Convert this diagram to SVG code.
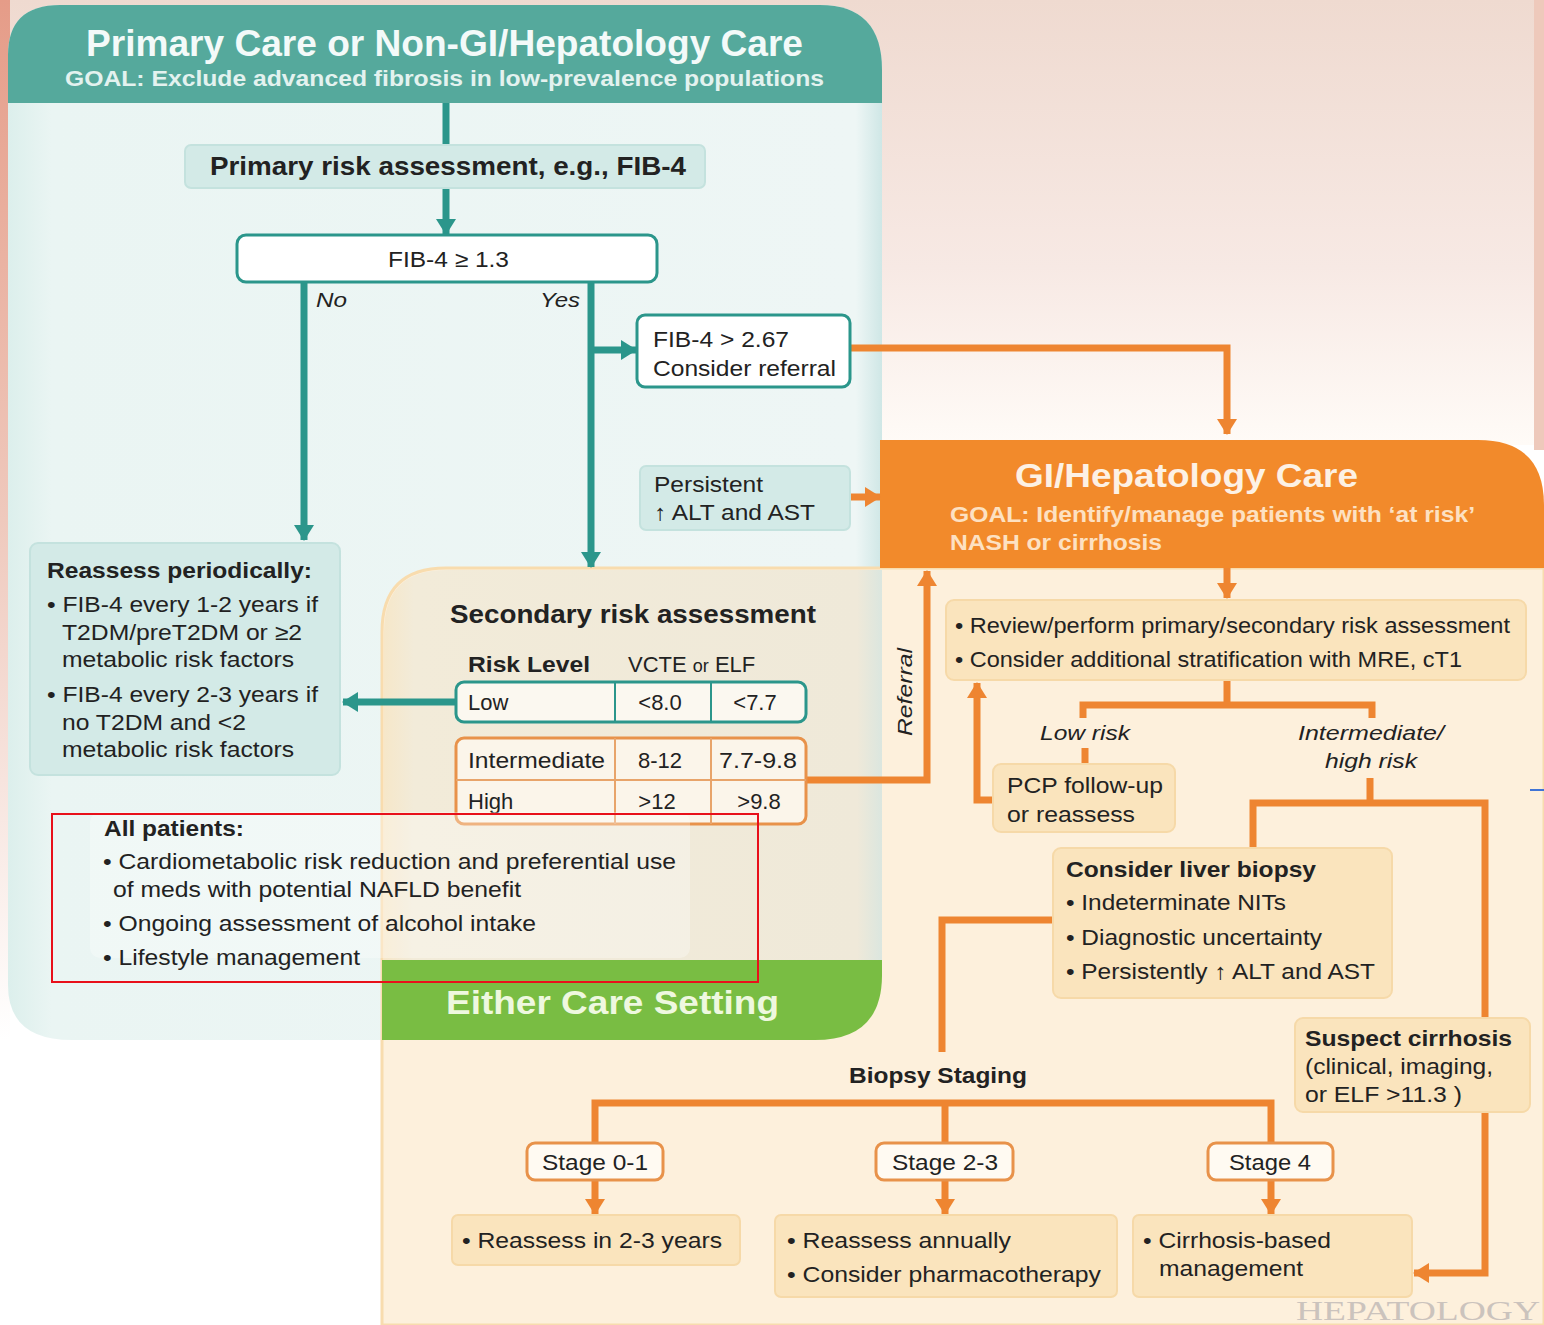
<svg xmlns="http://www.w3.org/2000/svg" width="1544" height="1325" viewBox="0 0 1544 1325">
<style>
text{font-family:"Liberation Sans",Arial,sans-serif;fill:#222;}
.t22{font-size:22px;}
.t21{font-size:21px;}
.b{font-weight:bold;}
.i{font-style:italic;}
.teal{fill:none;stroke:#2b968b;stroke-width:7;}
.or{fill:none;stroke:#ee8531;stroke-width:7;}
.lt{fill:#d3eae7;stroke:#c4e2de;stroke-width:2;}
.lo{fill:#fae4bd;stroke:#f6d9a8;stroke-width:2;}
.wt{fill:#ffffff;stroke:#2b968b;stroke-width:3;}
.wo{fill:#fffaf2;stroke:#e8924a;stroke-width:3;}
</style>
<defs>
<linearGradient id="bgTop" x1="0" y1="0" x2="0" y2="1">
<stop offset="0" stop-color="#efdad0"/>
<stop offset="0.6" stop-color="#f7e9e4"/>
<stop offset="1" stop-color="#fffbf7"/>
</linearGradient>
<linearGradient id="tealBody" x1="0" y1="0" x2="1" y2="0">
<stop offset="0" stop-color="#dcefec"/>
<stop offset="0.05" stop-color="#eaf5f3"/>
<stop offset="0.97" stop-color="#eef6f5"/>
<stop offset="1" stop-color="#cfe7e6"/>
</linearGradient>
<linearGradient id="overlap" x1="0" y1="0" x2="1" y2="0">
<stop offset="0" stop-color="#f6e7c9"/>
<stop offset="0.06" stop-color="#f2ebd9"/>
<stop offset="0.95" stop-color="#efe9d9"/>
<stop offset="1" stop-color="#dbe6df"/>
</linearGradient>
<linearGradient id="leftStrip" x1="0" y1="0" x2="0" y2="1">
<stop offset="0" stop-color="#e59c88"/>
<stop offset="0.5" stop-color="#efc9bd"/>
<stop offset="1" stop-color="#ffffff"/>
</linearGradient>
<marker id="ahT" markerUnits="userSpaceOnUse" markerWidth="18" markerHeight="20" refX="15" refY="10" orient="auto">
<path d="M0,0 L16,10 L0,20 Z" fill="#2b968b"/>
</marker>
<marker id="ahO" markerUnits="userSpaceOnUse" markerWidth="18" markerHeight="20" refX="15" refY="10" orient="auto">
<path d="M0,0 L16,10 L0,20 Z" fill="#ee8531"/>
</marker>
</defs>

<!-- background -->
<rect x="0" y="0" width="1544" height="1325" fill="#ffffff"/>
<rect x="0" y="0" width="1544" height="445" fill="url(#bgTop)"/>
<rect x="0" y="0" width="10" height="1040" fill="url(#leftStrip)"/>
<rect x="1534" y="0" width="10" height="450" fill="#eec9bb"/>

<!-- teal panel -->
<g id="panel-primary">
<path d="M8,985 L8,55 Q8,5 60,5 L820,5 Q882,5 882,70 L882,975 Q882,1040 815,1040 L72,1040 Q8,1040 8,985 Z" fill="url(#tealBody)"/>
<path d="M8,103 L8,55 Q8,5 60,5 L820,5 Q882,5 882,70 L882,103 Z" fill="#55a99c"/>
<text x="444.5" y="56" text-anchor="middle" font-size="36" font-weight="bold" style="fill:#f3faf9" textLength="717" lengthAdjust="spacingAndGlyphs">Primary Care or Non-GI/Hepatology Care</text>
<text x="444.5" y="86" text-anchor="middle" font-size="22" font-weight="bold" style="fill:#e3f2ef" textLength="759" lengthAdjust="spacingAndGlyphs">GOAL: Exclude advanced fibrosis in low-prevalence populations</text>
</g>

<!-- orange panel -->
<g id="panel-gi">
<path d="M382,632 Q382,568 446,568 L1544,568 L1544,1325 L382,1325 Z" fill="#fdf0dc" stroke="#f8dcae" stroke-width="3"/>
<path d="M384,632 Q384,570 446,570 L882,570 L882,960 L384,960 Z" fill="url(#overlap)"/>
<path d="M880,440 L1478,440 Q1544,440 1544,505 L1544,568 L880,568 Z" fill="#f28a2b"/>
<text x="1186.5" y="487" text-anchor="middle" font-size="34" font-weight="bold" style="fill:#fdf1e4" textLength="343" lengthAdjust="spacingAndGlyphs">GI/Hepatology Care</text>
<text x="950" y="522" font-size="22" font-weight="bold" style="fill:#fde1c2" textLength="525" lengthAdjust="spacingAndGlyphs">GOAL: Identify/manage patients with ‘at risk’</text>
<text x="950" y="550" font-size="22" font-weight="bold" style="fill:#fde1c2" textLength="212" lengthAdjust="spacingAndGlyphs">NASH or cirrhosis</text>
</g>

<!-- either care setting band -->
<g id="band-either">
<path d="M382,960 L882,960 L882,975 Q882,1040 815,1040 L382,1040 Z" fill="#79bd43"/>
<text x="612.5" y="1014" text-anchor="middle" font-size="34" font-weight="bold" style="fill:#eef8df" textLength="333" lengthAdjust="spacingAndGlyphs">Either Care Setting</text>
</g>

<!-- connectors -->
<g id="connectors">
<path class="teal" d="M446,103 L446,145"/>
<path class="teal" d="M446,188 L446,234" marker-end="url(#ahT)"/>
<path class="teal" d="M304,282 L304,540" marker-end="url(#ahT)"/>
<path class="teal" d="M591,282 L591,567" marker-end="url(#ahT)"/>
<path class="teal" d="M591,350 L636,350" marker-end="url(#ahT)"/>
<path class="teal" d="M456,702 L343,702" marker-end="url(#ahT)"/>
<path class="or" d="M850,348 L1227,348 L1227,434" marker-end="url(#ahO)"/>
<path class="or" d="M850,497 L880,497" marker-end="url(#ahO)"/>
<path class="or" d="M806,780 L927,780 L927,571" marker-end="url(#ahO)"/>
<path class="or" d="M1227,568 L1227,598" marker-end="url(#ahO)"/>
<path class="or" d="M1227,680 L1227,705"/>
<path class="or" d="M1083,718 L1083,705 L1372,705 L1372,718"/>
<path class="or" d="M1085,748 L1085,766"/>
<path class="or" d="M993,800 L977,800 L977,683" marker-end="url(#ahO)"/>
<path class="or" d="M1370,778 L1370,803"/>
<path class="or" d="M1253,848 L1253,803 L1485,803 L1485,1018"/>
<path class="or" d="M1485,1112 L1485,1273 L1414,1273" marker-end="url(#ahO)"/>
<path class="or" d="M1053,920 L942,920 L942,1052"/>
<path class="or" d="M595,1145 L595,1103 L1271,1103 L1271,1145"/>
<path class="or" d="M945,1103 L945,1145"/>
<path class="or" d="M595,1180 L595,1214" marker-end="url(#ahO)"/>
<path class="or" d="M945,1180 L945,1214" marker-end="url(#ahO)"/>
<path class="or" d="M1271,1180 L1271,1214" marker-end="url(#ahO)"/>
<text x="0" y="0" class="t21 i" transform="translate(912,692) rotate(-90)" text-anchor="middle" textLength="88" lengthAdjust="spacingAndGlyphs">Referral</text>
<text x="316" y="307" class="t21 i" textLength="31" lengthAdjust="spacingAndGlyphs">No</text>
<text x="540" y="307" class="t21 i" textLength="40" lengthAdjust="spacingAndGlyphs">Yes</text>
<text x="1085" y="740" class="t21 i" text-anchor="middle" textLength="90" lengthAdjust="spacingAndGlyphs">Low risk</text>
<text x="1371" y="740" class="t21 i" text-anchor="middle" textLength="146" lengthAdjust="spacingAndGlyphs">Intermediate/</text>
<text x="1371" y="768" class="t21 i" text-anchor="middle" textLength="92" lengthAdjust="spacingAndGlyphs">high risk</text>
<text x="938" y="1083" class="t22 b" text-anchor="middle" textLength="178" lengthAdjust="spacingAndGlyphs">Biopsy Staging</text>
</g>

<!-- nodes -->
<g id="node-primary-risk">
<rect x="185" y="145" width="520" height="43" rx="6" class="lt"/>
<text x="210" y="175" font-size="25" font-weight="bold" textLength="476" lengthAdjust="spacingAndGlyphs">Primary risk assessment, e.g., FIB-4</text>
</g>
<g id="node-fib13">
<rect x="237" y="235" width="420" height="47" rx="9" class="wt"/>
<text x="448.5" y="267" class="t22" text-anchor="middle" textLength="121" lengthAdjust="spacingAndGlyphs">FIB-4 ≥ 1.3</text>
</g>
<g id="node-fib267">
<rect x="637" y="315" width="213" height="72" rx="8" class="wt"/>
<text x="653" y="347" class="t22" textLength="136" lengthAdjust="spacingAndGlyphs">FIB-4 &gt; 2.67</text>
<text x="653" y="376" class="t22" textLength="183" lengthAdjust="spacingAndGlyphs">Consider referral</text>
</g>
<g id="node-persistent">
<rect x="640" y="466" width="210" height="64" rx="6" class="lt"/>
<text x="654" y="492" class="t22" textLength="109" lengthAdjust="spacingAndGlyphs">Persistent</text>
<text x="654" y="520" class="t22" textLength="161" lengthAdjust="spacingAndGlyphs">↑ ALT and AST</text>
</g>
<g id="node-reassess-periodically">
<rect x="30" y="543" width="310" height="232" rx="8" class="lt"/>
<text x="47" y="578" class="t22 b" textLength="265" lengthAdjust="spacingAndGlyphs">Reassess periodically:</text>
<text x="47" y="612" class="t22" textLength="271" lengthAdjust="spacingAndGlyphs">• FIB-4 every 1-2 years if</text>
<text x="62" y="640" class="t22" textLength="240" lengthAdjust="spacingAndGlyphs">T2DM/preT2DM or ≥2</text>
<text x="62" y="667" class="t22" textLength="232" lengthAdjust="spacingAndGlyphs">metabolic risk factors</text>
<text x="47" y="702" class="t22" textLength="271" lengthAdjust="spacingAndGlyphs">• FIB-4 every 2-3 years if</text>
<text x="62" y="730" class="t22" textLength="184" lengthAdjust="spacingAndGlyphs">no T2DM and &lt;2</text>
<text x="62" y="757" class="t22" textLength="232" lengthAdjust="spacingAndGlyphs">metabolic risk factors</text>
</g>
<g id="node-secondary">
<text x="450" y="623" font-size="25" font-weight="bold" textLength="366" lengthAdjust="spacingAndGlyphs">Secondary risk assessment</text>
<text x="468" y="672" class="t22 b" textLength="122" lengthAdjust="spacingAndGlyphs">Risk Level</text>
<text x="628" y="672" class="t22">VCTE <tspan font-size="18">or</tspan> ELF</text>
<rect x="456" y="682" width="350" height="40" rx="8" fill="#fbf8f0" stroke="#2b968b" stroke-width="3"/>
<line x1="615" y1="682" x2="615" y2="722" stroke="#2b968b" stroke-width="2"/>
<line x1="711" y1="682" x2="711" y2="722" stroke="#2b968b" stroke-width="2"/>
<text x="468" y="710" class="t22">Low</text>
<text x="660" y="710" class="t22" text-anchor="middle">&lt;8.0</text>
<text x="755" y="710" class="t22" text-anchor="middle">&lt;7.7</text>
<rect x="456" y="738" width="350" height="86" rx="8" fill="#fbf5ea" stroke="#e8924a" stroke-width="3"/>
<line x1="456" y1="780" x2="806" y2="780" stroke="#e8a46a" stroke-width="2"/>
<line x1="615" y1="738" x2="615" y2="824" stroke="#e8a46a" stroke-width="2"/>
<line x1="711" y1="738" x2="711" y2="824" stroke="#e8a46a" stroke-width="2"/>
<text x="468" y="768" class="t22" textLength="137" lengthAdjust="spacingAndGlyphs">Intermediate</text>
<text x="660" y="768" class="t22" text-anchor="middle">8-12</text>
<text x="758" y="768" class="t22" text-anchor="middle" textLength="78" lengthAdjust="spacingAndGlyphs">7.7-9.8</text>
<text x="468" y="809" class="t22">High</text>
<text x="657" y="809" class="t22" text-anchor="middle">&gt;12</text>
<text x="759" y="809" class="t22" text-anchor="middle">&gt;9.8</text>
</g>
<g id="node-all-patients">
<rect x="90" y="812" width="600" height="146" rx="10" fill="#ffffff" opacity="0.3"/>
<text x="104" y="836" class="t22 b" textLength="140" lengthAdjust="spacingAndGlyphs">All patients:</text>
<text x="103" y="869" class="t22" textLength="573" lengthAdjust="spacingAndGlyphs">• Cardiometabolic risk reduction and preferential use</text>
<text x="113" y="897" class="t22" textLength="408" lengthAdjust="spacingAndGlyphs">of meds with potential NAFLD benefit</text>
<text x="103" y="931" class="t22" textLength="433" lengthAdjust="spacingAndGlyphs">• Ongoing assessment of alcohol intake</text>
<text x="103" y="965" class="t22" textLength="257" lengthAdjust="spacingAndGlyphs">• Lifestyle management</text>
</g>
<g id="node-review">
<rect x="946" y="600" width="580" height="80" rx="8" class="lo"/>
<text x="955" y="633" class="t22" textLength="555" lengthAdjust="spacingAndGlyphs">• Review/perform primary/secondary risk assessment</text>
<text x="955" y="667" class="t22" textLength="507" lengthAdjust="spacingAndGlyphs">• Consider additional stratification with MRE, cT1</text>
</g>
<g id="node-pcp">
<rect x="993" y="764" width="182" height="68" rx="8" class="lo"/>
<text x="1007" y="793" class="t22" textLength="156" lengthAdjust="spacingAndGlyphs">PCP follow-up</text>
<text x="1007" y="822" class="t22" textLength="128" lengthAdjust="spacingAndGlyphs">or reassess</text>
</g>
<g id="node-liver-biopsy">
<rect x="1053" y="848" width="339" height="150" rx="8" class="lo"/>
<text x="1066" y="877" class="t22 b" textLength="250" lengthAdjust="spacingAndGlyphs">Consider liver biopsy</text>
<text x="1066" y="910" class="t22" textLength="220" lengthAdjust="spacingAndGlyphs">• Indeterminate NITs</text>
<text x="1066" y="945" class="t22" textLength="256" lengthAdjust="spacingAndGlyphs">• Diagnostic uncertainty</text>
<text x="1066" y="979" class="t22" textLength="309" lengthAdjust="spacingAndGlyphs">• Persistently ↑ ALT and AST</text>
</g>
<g id="node-suspect-cirrhosis">
<rect x="1295" y="1018" width="235" height="94" rx="8" class="lo"/>
<text x="1305" y="1046" class="t22 b" textLength="207" lengthAdjust="spacingAndGlyphs">Suspect cirrhosis</text>
<text x="1305" y="1074" class="t22" textLength="188" lengthAdjust="spacingAndGlyphs">(clinical, imaging,</text>
<text x="1305" y="1102" class="t22" textLength="157" lengthAdjust="spacingAndGlyphs">or ELF &gt;11.3 )</text>
</g>
<g id="node-stage01">
<rect x="527" y="1143" width="136" height="37" rx="8" class="wo"/>
<text x="595" y="1170" class="t22" text-anchor="middle" textLength="106" lengthAdjust="spacingAndGlyphs">Stage 0-1</text>
</g>
<g id="node-stage23">
<rect x="876" y="1143" width="137" height="37" rx="8" class="wo"/>
<text x="945" y="1170" class="t22" text-anchor="middle" textLength="106" lengthAdjust="spacingAndGlyphs">Stage 2-3</text>
</g>
<g id="node-stage4">
<rect x="1208" y="1143" width="125" height="37" rx="8" class="wo"/>
<text x="1270" y="1170" class="t22" text-anchor="middle" textLength="82" lengthAdjust="spacingAndGlyphs">Stage 4</text>
</g>
<g id="node-reassess-23">
<rect x="452" y="1215" width="288" height="50" rx="6" class="lo"/>
<text x="462" y="1248" class="t22" textLength="260" lengthAdjust="spacingAndGlyphs">• Reassess in 2-3 years</text>
</g>
<g id="node-reassess-annually">
<rect x="775" y="1215" width="342" height="82" rx="6" class="lo"/>
<text x="787" y="1248" class="t22" textLength="224" lengthAdjust="spacingAndGlyphs">• Reassess annually</text>
<text x="787" y="1282" class="t22" textLength="314" lengthAdjust="spacingAndGlyphs">• Consider pharmacotherapy</text>
</g>
<g id="node-cirrhosis-mgmt">
<rect x="1133" y="1215" width="279" height="82" rx="6" class="lo"/>
<text x="1143" y="1248" class="t22" textLength="188" lengthAdjust="spacingAndGlyphs">• Cirrhosis-based</text>
<text x="1159" y="1276" class="t22" textLength="144" lengthAdjust="spacingAndGlyphs">management</text>
</g>

<!-- annotations -->
<rect x="52" y="814" width="706" height="168" fill="none" stroke="#e8101a" stroke-width="2"/>
<line x1="1530" y1="790" x2="1544" y2="790" stroke="#3f74d6" stroke-width="2"/>
<text x="1296" y="1320" font-size="27" style="fill:#cbc3bd;font-family:'Liberation Serif',serif" textLength="244" lengthAdjust="spacingAndGlyphs">HEPATOLOGY</text>
</svg>
